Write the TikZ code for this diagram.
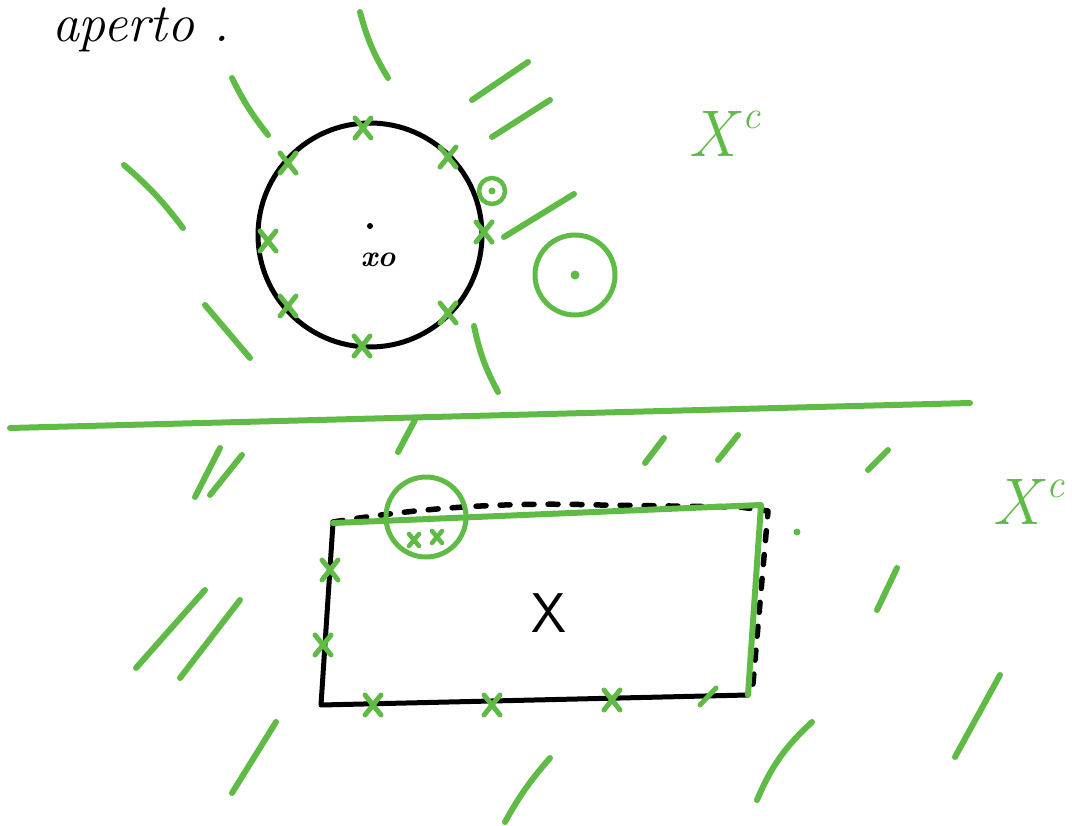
\documentclass[tikz,border=0pt]{standalone}
\usepackage{xcolor}
\definecolor{sketchgreen}{RGB}{96,186,70}
\tikzset{
  gr/.style={draw=sketchgreen, line width=6pt, line cap=round, line join=round},
  bk/.style={draw=black, line width=5pt, line cap=round, line join=round},
  bkdash/.style={draw=black, line width=5.5pt, line cap=round, line join=round, dash pattern=on 10pt off 14pt},
  cross/.pic={\draw[gr, line width=5pt] (-8,-10)--(8,10) (-8,10)--(8,-10);},
  smallcross/.pic={\draw[gr, line width=4.5pt] (-5,-6)--(5,6) (-5,6)--(5,-6);},
  lbl/.style={inner sep=0pt, outer sep=0pt}
}
\newcommand\complabel{\fontsize{66}{66}\selectfont\itshape X\raisebox{28pt}{\fontsize{40}{40}\selectfont\,c}}
\begin{document}
\begin{tikzpicture}[x=1pt,y=-1pt]
\useasboundingbox (0,0) rectangle (1072,826);

% title
\node[lbl, anchor=west] (title) at (52,30) {\fontsize{54}{54}\selectfont\itshape aperto .};

% ---------- upper part ----------
\node[draw=black, line width=5pt, circle, minimum size=224pt, inner sep=0pt] (ball) at (370,235) {};
\fill (370,226) circle (3pt);
\node[lbl] (x0) at (378,260) {\fontsize{30}{30}\selectfont\bfseries\itshape xo};

% crosses on the circle
\foreach \p in {(363,128),(288,163),(448,157),(268,241),(484,232),(288,306),(448,313),(362,346)}
  \pic at \p {cross};

% hatching outside the ball
\draw[gr] (360,12) to[bend right=8] (388,78);
\draw[gr] (232,78) to[bend right=6] (268,135);
\draw[gr] (472,100) -- (528,62);
\draw[gr] (492,137) -- (550,100);
\draw[gr] (124,165) to[bend left=6] (183,228);
\draw[gr] (504,237) -- (574,194);
\draw[gr] (205,305) -- (250,358);
\draw[gr] (474,326) to[bend right=8] (498,392);

% small neighbourhoods
\node[draw=sketchgreen, line width=4.5pt, circle, minimum size=26pt, inner sep=0pt] (nbsmall) at (492,191) {};
\fill[sketchgreen] (492,191) circle (3.5pt);
\node[draw=sketchgreen, line width=5pt, circle, minimum size=80pt, inner sep=0pt] (nbbig) at (575,275) {};
\fill[sketchgreen] (575,275) circle (4.5pt);

\node[lbl, text=sketchgreen, anchor=south west] (xc1) at (688,157) {\complabel};

% separating line
\coordinate (sepL) at (10,428);
\coordinate (sepR) at (970,403);
\draw[gr] (sepL) -- (sepR);

% ---------- lower part ----------
\coordinate (A) at (333,523);
\coordinate (B) at (761,505);
\coordinate (C) at (748,695);
\coordinate (D) at (321,705);

\draw[bkdash] (333,522) .. controls (420,508) and (500,502) .. (600,505)
   -- (740,507) -- (768,511) -- (752,695);
\draw[bk] (C) -- (D) -- (A);
\draw[gr] (A) -- (B) -- (C);

\node[lbl] (X) at (549,613) {\fontsize{56}{56}\selectfont\sffamily X};

% crosses on the boundary
\foreach \p in {(330,570),(323,645),(373,705),(492,705),(612,700)}
  \pic at \p {cross};
\draw[gr, line width=5pt] (700,705) -- (716,688);

% neighbourhood at the boundary
\node[draw=sketchgreen, line width=5pt, circle, minimum size=80pt, inner sep=0pt] (nbb) at (426,517) {};
\fill[sketchgreen] (429,519) circle (3.5pt);
\pic at (414,540) {smallcross};
\pic at (437,537) {smallcross};
\fill[sketchgreen] (797,532) circle (3.5pt);

% hatching outside the rectangle
\draw[gr] (398,452) -- (415,420);
\draw[gr] (195,497) -- (220,448);
\draw[gr] (210,495) -- (242,455);
\draw[gr] (645,463) -- (664,438);
\draw[gr] (718,460) -- (738,435);
\draw[gr] (868,470) -- (888,450);
\draw[gr] (877,610) -- (897,568);
\draw[gr] (136,668) -- (205,590);
\draw[gr] (180,678) -- (240,600);
\draw[gr] (232,793) -- (276,722);
\draw[gr] (505,822) to[bend left=6] (550,758);
\draw[gr] (757,800) to[bend left=12] (812,722);
\draw[gr] (955,757) -- (1000,675);

\node[lbl, text=sketchgreen, anchor=south west] (xc2) at (992,525) {\complabel};
\end{tikzpicture}
\end{document}
